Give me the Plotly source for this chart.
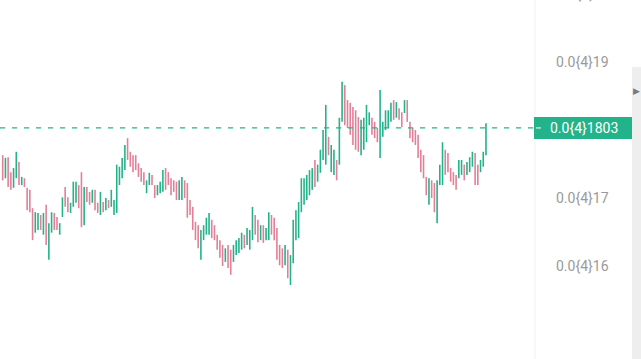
import plotly.graph_objects as go

# Prices in units of 1e-6 (0.0{4}18 == 0.000018)
opens = [
    17.63, 17.29, 17.60, 17.38, 17.15, 17.29, 17.53, 17.19, 17.29, 17.15,
    17.12, 16.85, 16.49, 16.53, 16.75, 16.46, 16.90, 16.09, 16.49, 16.78,
    16.72, 16.46, 16.72, 17.16, 17.01, 16.78, 16.87, 16.93, 17.19, 17.38,
    16.60, 17.16, 17.09, 16.93, 17.12, 16.93, 16.75, 16.94, 16.82, 16.97,
    16.87, 16.75, 16.78, 17.19, 17.29, 17.41, 17.88, 17.68, 17.63, 17.63,
    17.51, 17.44, 17.38, 17.07, 17.19, 17.34, 17.19, 17.04, 17.07, 17.09,
    17.44, 17.38, 17.29, 17.26, 17.24, 16.97, 16.97, 17.26, 17.22, 16.97,
    16.87, 16.65, 16.60, 16.09, 16.38, 16.46, 16.46, 16.68, 16.60, 16.46,
    16.38, 16.31, 16.06, 16.31, 16.24, 16.06, 16.16, 16.19, 16.24, 16.46,
    16.31, 16.24, 16.38, 16.75, 16.68, 16.38, 16.60, 16.38, 16.38, 16.75,
    16.71, 16.56, 16.31, 16.26, 16.01, 16.24, 15.72, 16.04, 16.38, 16.41,
    16.79, 16.90, 16.97, 17.04, 17.12, 17.56, 17.24, 17.37, 17.56,
    17.49, 17.90, 17.38, 17.34, 17.56, 17.49, 18.12, 18.66, 18.44, 18.40,
    18.34, 18.29, 18.19, 17.63, 17.71, 17.82, 18.07, 18.18, 18.12, 18.03,
    17.59, 17.90, 18.00, 18.03, 18.12, 18.44, 18.18, 18.32, 18.26, 18.25,
    18.44, 18.12, 18.03, 18.00, 17.93, 17.71, 17.63, 17.31, 16.90, 17.26,
    17.22, 16.63, 17.19, 17.19, 17.71, 17.66, 17.44, 17.38, 17.34, 17.29,
    17.34, 17.49, 17.34, 17.38, 17.46, 17.66, 17.49, 17.38, 17.46, 17.66,
]
highs = [
    17.63, 17.59, 17.60, 17.38, 17.44, 17.68, 17.53, 17.31, 17.29, 17.15,
    17.12, 16.85, 16.79, 16.78, 16.75, 16.78, 16.90, 16.63, 16.79, 16.78,
    16.72, 16.63, 17.01, 17.16, 17.01, 16.93, 17.24, 17.24, 17.19, 17.38,
    17.16, 17.16, 17.09, 17.12, 17.12, 16.93, 17.09, 16.94, 17.00, 16.97,
    17.12, 16.97, 17.49, 17.46, 17.59, 17.78, 17.88, 17.68, 17.63, 17.63,
    17.51, 17.44, 17.38, 17.26, 17.37, 17.34, 17.19, 17.19, 17.24, 17.41,
    17.44, 17.38, 17.29, 17.26, 17.24, 17.26, 17.31, 17.26, 17.22, 16.97,
    16.87, 16.65, 16.60, 16.53, 16.60, 16.71, 16.78, 16.68, 16.60, 16.46,
    16.38, 16.31, 16.26, 16.31, 16.24, 16.31, 16.38, 16.41, 16.49, 16.46,
    16.56, 16.53, 16.87, 16.75, 16.68, 16.60, 16.60, 16.56, 16.79, 16.75,
    16.71, 16.56, 16.31, 16.26, 16.31, 16.24, 16.16, 16.68, 16.82, 16.94,
    17.29, 17.29, 17.34, 17.41, 17.44, 17.56, 17.49, 17.71, 18.00,
    18.37, 17.90, 17.78, 17.71, 17.56, 18.18, 18.71, 18.66, 18.44, 18.40,
    18.34, 18.29, 18.19, 18.15, 18.18, 18.37, 18.26, 18.18, 18.12, 18.03,
    18.59, 18.12, 18.29, 18.29, 18.40, 18.44, 18.41, 18.32, 18.26, 18.44,
    18.44, 18.12, 18.03, 18.00, 17.93, 17.71, 17.63, 17.31, 17.29, 17.26,
    17.22, 17.26, 17.49, 17.82, 17.71, 17.66, 17.44, 17.38, 17.34, 17.56,
    17.56, 17.49, 17.53, 17.60, 17.68, 17.66, 17.49, 17.56, 17.68, 18.10,
]
lows = [
    17.26, 17.29, 17.16, 17.12, 17.15, 17.29, 17.19, 17.19, 17.16, 16.82,
    16.79, 16.38, 16.49, 16.53, 16.53, 16.46, 16.31, 16.09, 16.49, 16.53,
    16.53, 16.46, 16.72, 16.87, 16.79, 16.78, 16.87, 16.93, 16.85, 16.57,
    16.60, 16.94, 16.90, 16.93, 16.82, 16.78, 16.75, 16.79, 16.82, 16.85,
    16.87, 16.75, 16.78, 17.19, 17.29, 17.41, 17.56, 17.46, 17.38, 17.41,
    17.31, 17.24, 17.19, 17.07, 17.19, 17.19, 17.00, 17.04, 17.07, 17.09,
    17.12, 17.19, 17.04, 17.09, 16.97, 16.97, 16.97, 17.00, 16.71, 16.75,
    16.53, 16.38, 16.26, 16.09, 16.38, 16.46, 16.46, 16.41, 16.38, 16.24,
    16.12, 16.00, 16.06, 15.97, 15.87, 16.06, 16.16, 16.19, 16.24, 16.26,
    16.31, 16.24, 16.38, 16.46, 16.35, 16.38, 16.34, 16.38, 16.38, 16.46,
    16.38, 16.09, 16.01, 15.97, 16.01, 15.82, 15.72, 16.04, 16.38, 16.41,
    16.79, 16.90, 16.97, 17.04, 17.12, 17.16, 17.24, 17.37, 17.56,
    17.49, 17.63, 17.38, 17.34, 17.26, 17.49, 18.12, 18.07, 18.03, 17.93,
    17.78, 17.71, 17.68, 17.63, 17.71, 17.82, 18.07, 17.93, 17.88, 17.82,
    17.59, 17.90, 18.00, 18.03, 18.12, 18.15, 18.18, 18.15, 18.04, 18.25,
    18.12, 17.88, 17.82, 17.78, 17.59, 17.38, 17.29, 17.04, 16.90, 17.00,
    16.79, 16.63, 17.19, 17.19, 17.34, 17.38, 17.24, 17.19, 17.12, 17.29,
    17.34, 17.26, 17.34, 17.38, 17.46, 17.19, 17.19, 17.38, 17.46, 17.63,
]
closes = [
    17.26, 17.59, 17.16, 17.12, 17.44, 17.68, 17.19, 17.31, 17.16, 16.82,
    16.79, 16.38, 16.79, 16.78, 16.53, 16.78, 16.31, 16.63, 16.79, 16.53,
    16.53, 16.63, 17.01, 16.87, 16.79, 16.93, 17.24, 17.24, 16.85, 16.57,
    17.16, 16.94, 16.90, 17.12, 16.82, 16.78, 17.09, 16.79, 17.00, 16.85,
    17.12, 16.97, 17.49, 17.46, 17.59, 17.78, 17.56, 17.46, 17.38, 17.41,
    17.31, 17.24, 17.19, 17.26, 17.37, 17.19, 17.00, 17.19, 17.24, 17.41,
    17.12, 17.19, 17.04, 17.09, 16.97, 17.26, 17.31, 17.00, 16.71, 16.75,
    16.53, 16.38, 16.26, 16.53, 16.60, 16.71, 16.78, 16.41, 16.38, 16.24,
    16.12, 16.00, 16.26, 15.97, 15.87, 16.31, 16.38, 16.41, 16.49, 16.26,
    16.56, 16.53, 16.87, 16.46, 16.35, 16.60, 16.34, 16.56, 16.79, 16.46,
    16.38, 16.09, 16.01, 15.97, 16.31, 15.82, 16.16, 16.68, 16.82, 16.94,
    17.29, 17.29, 17.34, 17.41, 17.44, 17.16, 17.49, 17.71, 18.00,
    18.37, 17.63, 17.78, 17.71, 17.26, 18.18, 18.71, 18.07, 18.03, 17.93,
    17.78, 17.71, 17.68, 18.15, 18.18, 18.37, 18.26, 17.93, 17.88, 17.82,
    18.59, 18.12, 18.29, 18.29, 18.40, 18.15, 18.41, 18.15, 18.04, 18.44,
    18.12, 17.88, 17.82, 17.78, 17.59, 17.38, 17.29, 17.04, 17.29, 17.00,
    16.79, 17.26, 17.49, 17.82, 17.34, 17.38, 17.24, 17.19, 17.12, 17.56,
    17.56, 17.26, 17.53, 17.60, 17.68, 17.19, 17.19, 17.56, 17.68, 18.03,
]
bar_index = list(range(len(closes)))

tick_values = [16, 17, 19]
tick_labels = ["0.0{4}16", "0.0{4}17", "0.0{4}19"]
cut_label_text = "0.0{4}20"

GREEN = "#22b38a"
RED = "#e37f97"
AXIS_TEXT = "#9a9a9a"
FONT = "Roboto, Open Sans, sans-serif"

W, H = 641, 359
PLOT_R = 535            # right edge of the price area (px)
Y_TOP, Y_BOT = 19.912, 14.632
PX_PER_UNIT = (Y_TOP - Y_BOT) / H   # price units per pixel

last_close = closes[-1]
last_label = "0.0{4}" + f"{last_close * 100:.0f}"

fig = go.Figure()
fig.add_trace(go.Ohlc(
    x=bar_index, open=opens, high=highs, low=lows, close=closes,
    tickwidth=0,
    increasing=dict(line=dict(color=GREEN, width=1.6)),
    decreasing=dict(line=dict(color=RED, width=1.6)),
    hoverinfo="skip", showlegend=False,
))

def px(p):  # paper x from pixel
    return p / PLOT_R

shapes = [
    # axis panel separator
    dict(type="line", xref="paper", yref="paper", x0=1, x1=1, y0=0, y1=1,
         line=dict(color="#f1f1f1", width=1), layer="below"),
    # right gray strip
    dict(type="rect", xref="paper", yref="paper", x0=px(632), x1=px(641.5), y0=0, y1=1 - 67 / H,
         fillcolor="#eeeeee", line=dict(width=0), layer="below"),
    # last price dashed line
    dict(type="line", xref="paper", yref="y", x0=0, x1=px(534), y0=last_close, y1=last_close,
         line=dict(color=GREEN, width=1.2, dash="5px,7px")),
    # last price box
    dict(type="rect", xref="paper", yref="y", x0=px(534), x1=px(632),
         y0=last_close - 11 * PX_PER_UNIT, y1=last_close + 11 * PX_PER_UNIT,
         fillcolor=GREEN, line=dict(width=0)),
    dict(type="line", xref="paper", yref="y", x0=px(536), x1=px(541),
         y0=last_close, y1=last_close, line=dict(color="white", width=1)),
]

annotations = [
    dict(xref="paper", yref="y", x=px(584), y=last_close, text=last_label,
         showarrow=False, xanchor="center", yanchor="middle",
         font=dict(color="white", size=14, family=FONT)),
    dict(xref="paper", yref="paper", x=px(555), y=1 + 6 / H,
         text=cut_label_text, showarrow=False, xanchor="left", yanchor="middle",
         font=dict(color=AXIS_TEXT, size=14, family=FONT)),
    dict(xref="paper", yref="paper", x=px(636.5), y=1 - 91 / H, text="▶",
         showarrow=False, xanchor="center", yanchor="middle",
         font=dict(color="#7a7a7a", size=9, family="DejaVu Sans")),
]

x_left = -2.7 / 2.715
x_right = x_left + PLOT_R / 2.715

fig.update_layout(
    width=W, height=H,
    margin=dict(l=0, r=W - PLOT_R, t=0, b=0),
    paper_bgcolor="white", plot_bgcolor="white",
    shapes=shapes, annotations=annotations,
    xaxis=dict(range=[x_left, x_right], visible=False, rangeslider=dict(visible=False),
               fixedrange=True),
    yaxis=dict(range=[Y_BOT, Y_TOP], side="right", tickvals=tick_values, ticktext=tick_labels,
               showgrid=False, zeroline=False, showline=False, ticks="",
               ticklabelstandoff=20,
               tickfont=dict(color=AXIS_TEXT, size=14, family=FONT), fixedrange=True),
    font=dict(family=FONT),
)

fig.write_html("out.html", config=dict(displayModeBar=False))
